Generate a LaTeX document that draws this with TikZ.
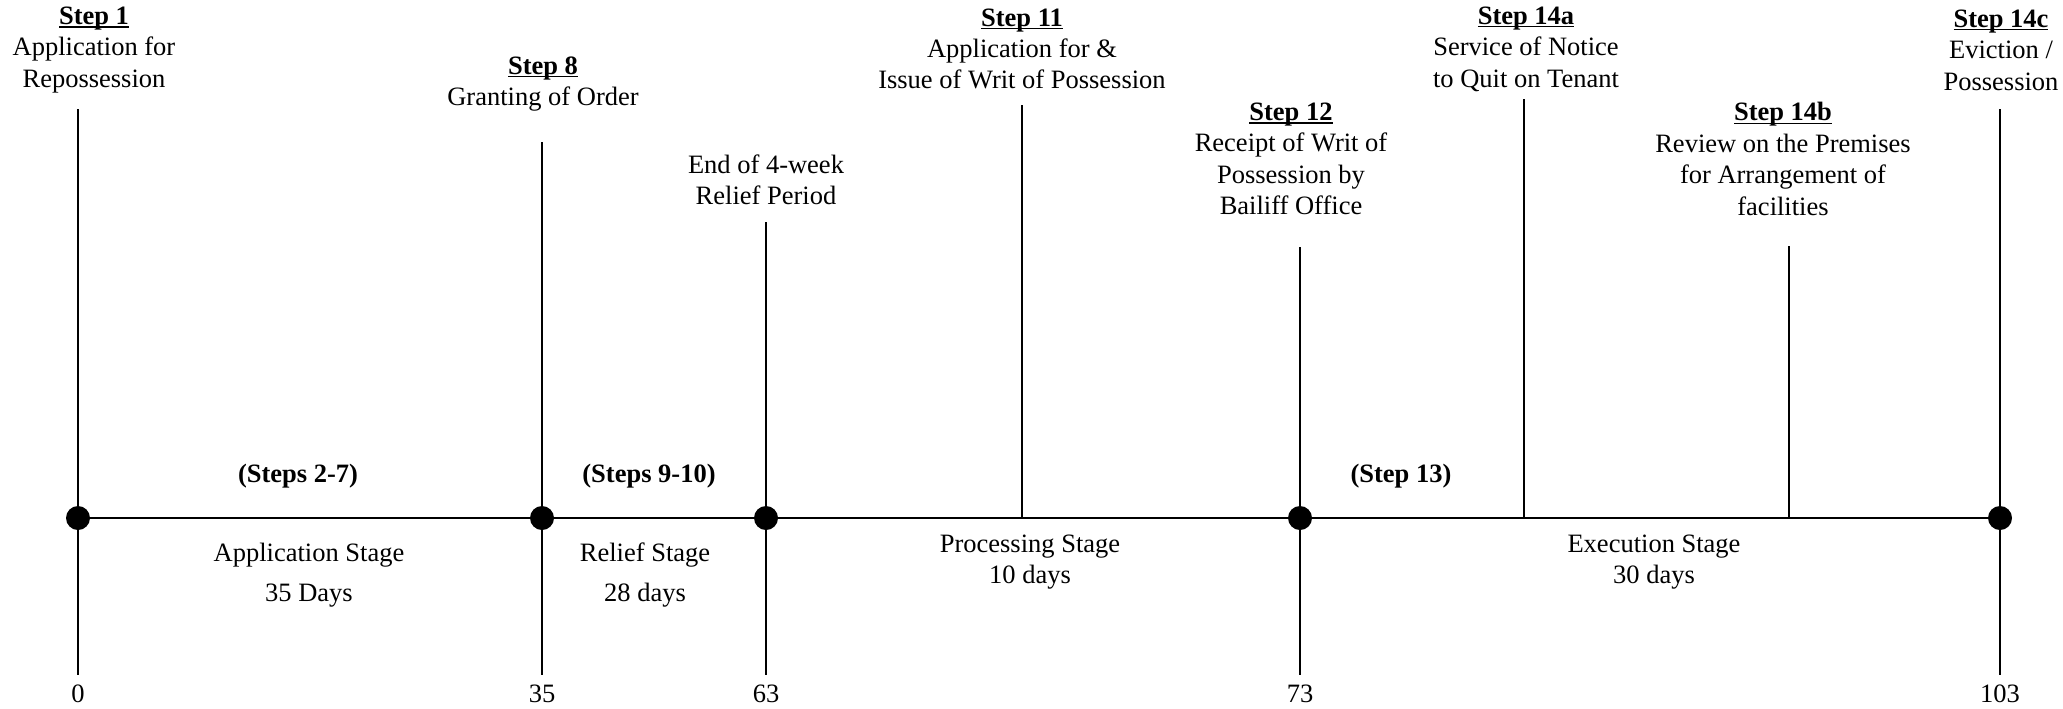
\documentclass[tikz,border=0pt]{standalone}
\usepackage{fontspec}
\setmainfont{Liberation Serif}
\newcommand{\stepu}[1]{\setbox0\hbox{\textbf{#1}}\rlap{\rule[-1.6pt]{\wd0}{0.8pt}}\box0}
\tikzset{
  lbl/.style={align=center, font=\fontsize{13.25pt}{15.7pt}\selectfont, inner sep=0pt},
  bld/.style={font=\fontsize{13.25pt}{15.7pt}\selectfont\bfseries, inner sep=0pt},
  dot/.style={circle, fill=black, minimum size=12pt, inner sep=0pt},
  axisline/.style={line width=0.85pt},
  vline/.style={line width=0.75pt}
}
\begin{document}
\begin{tikzpicture}[x=0.5pt,y=-0.5pt]
\useasboundingbox (0,0) rectangle (2063,708);
% top labels
\node[lbl] (s1) at (94,50) {\stepu{Step 1}\\Application for\\Repossession};
\node[lbl] (s8) at (543,84) {\stepu{Step 8}\\Granting of Order};
\node[lbl] (er) at (766,180) {End of 4-week\\Relief Period};
\node[lbl] (s11) at (1022,49) {\stepu{Step 11}\\Application for \&\\Issue of Writ of Possession};
\node[lbl] (s12) at (1291,159) {\stepu{Step 12}\\Receipt of Writ of\\Possession by\\Bailiff Office};
\node[lbl] (s14a) at (1526,49) {\stepu{Step 14a}\\Service of Notice\\to Quit on Tenant};
\node[lbl] (s14b) at (1783,159) {\stepu{Step 14b}\\Review on the Premises\\for Arrangement of\\facilities};
\node[lbl] (s14c) at (2001,50) {\stepu{Step 14c}\\Eviction /\\Possession};
% top coordinates of vertical lines
\coordinate (t0) at (78,109);
\coordinate (t35) at (542,142);
\coordinate (t63) at (766,222);
\coordinate (t11) at (1022,105);
\coordinate (t73) at (1300,247);
\coordinate (t14a) at (1524,99);
\coordinate (t14b) at (1789,246);
\coordinate (t103) at (2000,109);
% bottom coordinates
\coordinate (b0) at (78,675);
\coordinate (b35) at (542,675);
\coordinate (b63) at (766,675);
\coordinate (b73) at (1300,675);
\coordinate (b103) at (2000,675);
\coordinate (a11) at (1022,518);
\coordinate (a14a) at (1524,518);
\coordinate (a14b) at (1789,518);
% axis
\coordinate (ax0) at (78,518);
\coordinate (ax103) at (2000,518);
\draw[axisline] (ax0) -- (ax103);
% vertical lines
\draw[vline] (t0) -- (b0);
\draw[vline] (t35) -- (b35);
\draw[vline] (t63) -- (b63);
\draw[vline] (t11) -- (a11);
\draw[vline] (t73) -- (b73);
\draw[vline] (t14a) -- (a14a);
\draw[vline] (t14b) -- (a14b);
\draw[vline] (t103) -- (b103);
% dots
\node[dot] (d0) at (78,518) {};
\node[dot] (d35) at (542,518) {};
\node[dot] (d63) at (766,518) {};
\node[dot] (d73) at (1300,518) {};
\node[dot] (d103) at (2000,518) {};
% bold step ranges
\node[bld] (r27) at (298,476) {(Steps 2-7)};
\node[bld] (r910) at (649,476) {(Steps 9-10)};
\node[bld] (r13) at (1401,476) {(Step 13)};
% stages
\node[lbl] (st1) at (309,575) {Application Stage\\[4pt]35 Days};
\node[lbl] (st2) at (645,575) {Relief Stage\\[4pt]28 days};
\node[lbl] (st3) at (1030,562) {Processing Stage\\10 days};
\node[lbl] (st4) at (1654,562) {Execution Stage\\30 days};
% day numbers
\node[lbl] (n0) at (78,694) {0};
\node[lbl] (n35) at (542,694) {35};
\node[lbl] (n63) at (766,694) {63};
\node[lbl] (n73) at (1300,694) {73};
\node[lbl] (n103) at (2000,694) {103};
\end{tikzpicture}
\end{document}
